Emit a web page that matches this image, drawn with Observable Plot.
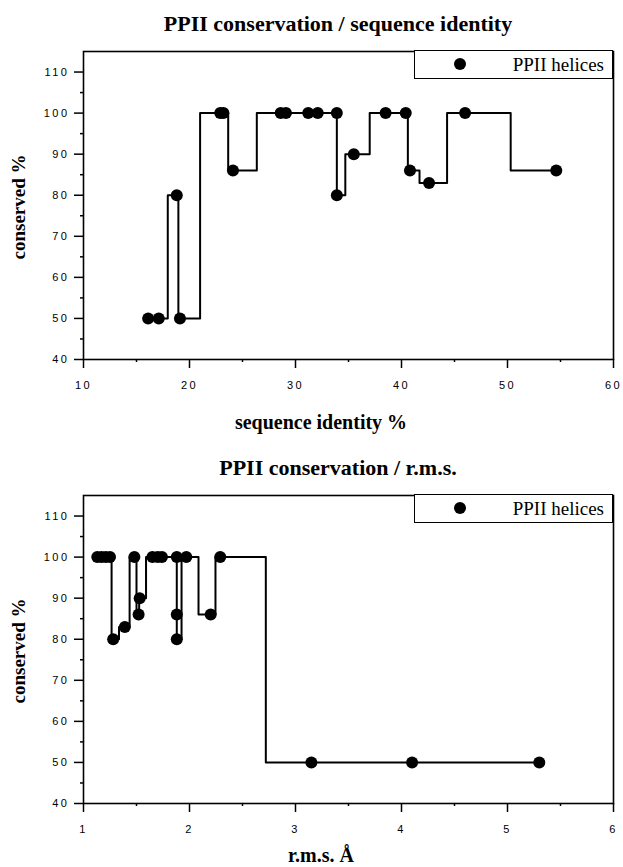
<!DOCTYPE html>
<html><head><meta charset="utf-8">
<script src="https://cdn.jsdelivr.net/npm/d3@7"></script>
<script src="https://cdn.jsdelivr.net/npm/@observablehq/plot@0.6"></script>
<style>
body{margin:0;background:#fff;}
#root{position:relative;width:623px;height:867px;overflow:hidden;background:#fff;}
.chart{position:absolute;left:0;}
.title{position:absolute;font-family:"Liberation Serif",serif;font-weight:bold;white-space:nowrap;color:#000;transform:translate(-50%,-50%);line-height:1;}
.ytitle{position:absolute;font-family:"Liberation Serif",serif;font-weight:bold;white-space:nowrap;color:#000;transform:translate(-50%,-50%) rotate(-90deg);font-size:19px;line-height:1;}
.legend{position:absolute;box-sizing:border-box;border:1.5px solid #000;background:#fff;width:199px;height:29px;}
.legend .dot{position:absolute;width:12px;height:12px;border-radius:50%;background:#000;left:39px;top:7px;}
.legend .lab{position:absolute;right:8px;top:4px;font-family:"Liberation Serif",serif;font-size:19px;line-height:1;white-space:nowrap;}
#root svg g[aria-label="x-axis tick label"] text, #root svg g[aria-label="y-axis tick label"] text{letter-spacing:2.5px;}
</style>
</head><body>
<div id="root"></div>
<script>
// ---- data: top chart (conservation vs sequence identity) ----
const seqIdentity = [16.1, 17.1, 18.8, 19.1, 22.9, 23.2, 24.1, 28.6, 29.1, 31.2, 32.1, 33.9, 33.9, 35.5, 38.5, 40.4, 40.8, 42.6, 46.0, 54.6];
const seqConserved = [50, 50, 80, 50, 100, 100, 86, 100, 100, 100, 100, 100, 80, 90, 100, 100, 86, 83, 100, 86];
// ---- data: bottom chart (conservation vs r.m.s.) ----
const rms = [1.13, 1.17, 1.21, 1.25, 1.28, 1.39, 1.48, 1.52, 1.53, 1.65, 1.70, 1.74, 1.88, 1.88, 1.88, 1.97, 2.20, 2.29, 3.15, 4.10, 5.30];
const rmsConserved = [100, 100, 100, 100, 80, 83, 100, 86, 90, 100, 100, 100, 100, 86, 80, 100, 86, 100, 50, 50, 50];
// ---- ticks / labels ----
const yMajor = [40, 50, 60, 70, 80, 90, 100, 110];
const yMinor = [45, 55, 65, 75, 85, 95, 105];
const seqMajor = [10, 20, 30, 40, 50, 60];
const seqMinor = [15, 25, 35, 45, 55];
const rmsMajor = [1, 2, 3, 4, 5, 6];
const rmsMinor = [1.5, 2.5, 3.5, 4.5, 5.5];
const titles = ["PPII conservation / sequence identity", "PPII conservation / r.m.s."];
const xTitles = ["sequence identity %", "r.m.s.  Å"];
const yTitle = "conserved %";
const legendLabel = "PPII helices";

function makeChart(xs, ys, xDomain, xMajor, xMinor) {
  const data = xs.map((x, i) => ({x, y: ys[i]}));
  return Plot.plot({
    width: 623, height: 430,
    marginTop: 51, marginBottom: 71, marginLeft: 83, marginRight: 10,
    x: {domain: xDomain},
    y: {domain: [40, 115]},
    style: {fontFamily: "'Liberation Sans', Arial, sans-serif", fontSize: "11px", color: "#000", background: "transparent", overflow: "visible"},
    marks: [
      Plot.axisX(xMajor, {anchor: "bottom", tickSize: 9, tickPadding: 13, strokeWidth: 1.5, label: null, tickFormat: d => String(d)}),
      Plot.axisX(xMinor, {anchor: "bottom", tickSize: 3, strokeWidth: 1.5, label: null, tickFormat: () => ""}),
      Plot.axisY(yMajor, {anchor: "left", tickSize: 9, tickPadding: 5, strokeWidth: 1.5, label: null, tickFormat: d => String(d)}),
      Plot.axisY(yMinor, {anchor: "left", tickSize: 3, strokeWidth: 1.5, label: null, tickFormat: () => ""}),
      Plot.frame({strokeWidth: 1.6}),
      Plot.line(data, {x: "x", y: "y", curve: "step", stroke: "#000", strokeWidth: 2}),
      Plot.dot(data, {x: "x", y: "y", r: 6, fill: "#000", stroke: "none"})
    ]
  });
}

const root = document.getElementById("root");
const charts = [
  makeChart(seqIdentity, seqConserved, [10, 60], seqMajor, seqMinor),
  makeChart(rms, rmsConserved, [1, 6], rmsMajor, rmsMinor)
];
const offsets = [0, 444];
charts.forEach((svg, i) => {
  const wrap = document.createElement("div");
  wrap.className = "chart";
  wrap.style.top = offsets[i] + "px";
  wrap.appendChild(svg);
  root.appendChild(wrap);

  const t = document.createElement("div");
  t.className = "title";
  t.style.fontSize = "22px";
  t.style.left = "338px";
  t.style.top = (offsets[i] + 24) + "px";
  t.textContent = titles[i];
  root.appendChild(t);

  const xt = document.createElement("div");
  xt.className = "title";
  xt.style.fontSize = "20px";
  xt.style.left = "321px";
  xt.style.top = (offsets[i] + (i === 0 ? 422 : 411)) + "px";
  xt.textContent = xTitles[i];
  root.appendChild(xt);

  const yt = document.createElement("div");
  yt.className = "ytitle";
  yt.style.left = "18px";
  yt.style.top = (offsets[i] + 207) + "px";
  yt.textContent = yTitle;
  root.appendChild(yt);

  const lg = document.createElement("div");
  lg.className = "legend";
  lg.style.left = "414px";
  lg.style.top = (offsets[i] + 50) + "px";
  const dot = document.createElement("div");
  dot.className = "dot";
  const lab = document.createElement("div");
  lab.className = "lab";
  lab.textContent = legendLabel;
  lg.appendChild(dot);
  lg.appendChild(lab);
  root.appendChild(lg);
});
</script>
</body></html>
